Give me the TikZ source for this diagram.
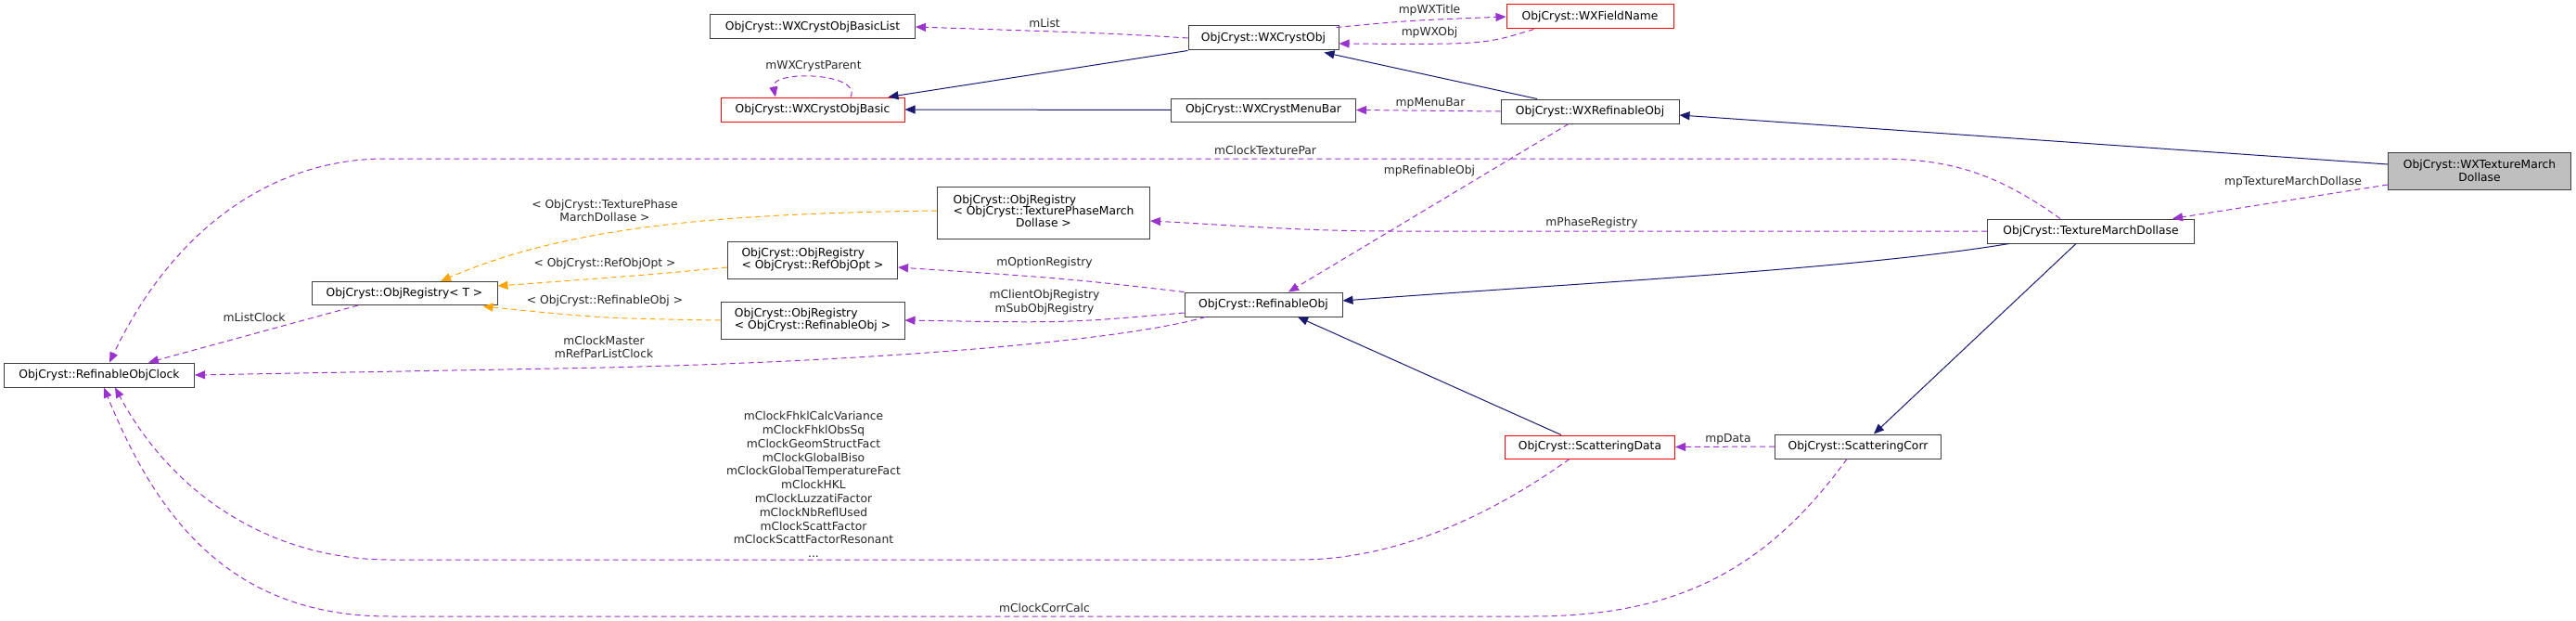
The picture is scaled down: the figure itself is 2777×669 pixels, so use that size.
\documentclass[tikz,border=0pt]{standalone}
\usepackage{fontspec}
\setmainfont{DejaVu Sans}
\usetikzlibrary{arrows.meta,calc}
\definecolor{inh}{HTML}{191970}
\definecolor{use}{HTML}{9A32CD}
\definecolor{tpl}{HTML}{FFA500}
\begin{document}
\begin{tikzpicture}[x=1pt,y=-1pt,
  every node/.style={font=\fontsize{12.3}{14.8}\selectfont,inner sep=0pt},
  box/.style={draw=black!75,line width=1pt,fill=white,align=center},
  redbox/.style={box,draw=red},
  lbl/.style={align=center,text=black!85},
  inhE/.style={draw=inh,line width=1pt,-{Triangle[length=11pt,width=9pt]}},
  useE/.style={draw=use,line width=1pt,dash pattern=on 6pt off 4pt,-{Triangle[length=11pt,width=9pt]}},
  tplE/.style={draw=tpl,line width=1pt,dash pattern=on 6pt off 4pt,-{Triangle[length=11pt,width=9pt]}}]
\useasboundingbox (0,0) rectangle (2777,669);
% nodes
\node[box,minimum width=221,minimum height=26] (list) at (876,29) {ObjCryst::WXCrystObjBasicList};
\node[box,minimum width=162,minimum height=26] (wxobj) at (1362,41) {ObjCryst::WXCrystObj};
\node[redbox,minimum width=180,minimum height=26] (field) at (1714,18) {ObjCryst::WXFieldName};
\node[redbox,minimum width=198,minimum height=26] (basic) at (876,118) {ObjCryst::WXCrystObjBasic};
\node[box,minimum width=199,minimum height=25] (menubar) at (1362,118.5) {ObjCryst::WXCrystMenuBar};
\node[box,minimum width=192,minimum height=26] (wxref) at (1714,120) {ObjCryst::WXRefinableObj};
\node[box,fill=black!25,minimum width=197,minimum height=40] (wxtmd) at (2673,184) {ObjCryst::WXTextureMarch\\Dollase};
\node[box,minimum width=223,minimum height=26] (tmd) at (2254,249) {ObjCryst::TextureMarchDollase};
\node[box,minimum width=179,minimum height=26] (sc) at (2003,481) {ObjCryst::ScatteringCorr};
\node[redbox,minimum width=183,minimum height=25] (sd) at (1714,481.5) {ObjCryst::ScatteringData};
\node[box,minimum width=170,minimum height=26] (robj) at (1362,328) {ObjCryst::RefinableObj};
\node[box,minimum width=229,minimum height=56] (regtpmd) at (1125,229) {\begin{tabular}{@{}l@{}}ObjCryst::ObjRegistry\\[-2pt]< ObjCryst::TexturePhaseMarch\\[-2pt]\multicolumn{1}{@{}c@{}}{Dollase >}\end{tabular}};
\node[box,minimum width=183,minimum height=40] (regopt) at (876,280) {\begin{tabular}{@{}l@{}}ObjCryst::ObjRegistry\\[-2pt]< ObjCryst::RefObjOpt >\end{tabular}};
\node[box,minimum width=198,minimum height=40] (regrobj) at (876,345) {\begin{tabular}{@{}l@{}}ObjCryst::ObjRegistry\\[-2pt]< ObjCryst::RefinableObj >\end{tabular}};
\node[box,minimum width=200,minimum height=25] (regT) at (436,316) {ObjCryst::ObjRegistry< T >};
\node[box,minimum width=205,minimum height=26] (clock) at (107,404) {ObjCryst::RefinableObjClock};
% edges
\draw[useE] (wxobj.west) .. controls (1200,36) .. (list.east);
\node[lbl] (l1) at (1126,25) {mList};
\draw[useE] ($(wxobj.north east)+(-3,2)$) .. controls (1520,22) .. (field.west);
\node[lbl] (l2) at (1541,11) {mpWXTitle};
\draw[useE] ($(field.south west)+(30,0)$) .. controls (1600,48) .. ($(wxobj.east)+(0,6)$);
\node[lbl] (l3) at (1541,35) {mpWXObj};
\draw[useE] ($(basic.north)+(41,0)$) .. controls (930,78) and (830,75) .. ($(basic.north)+(-40,0)$);
\node[lbl] (l4) at (877,71) {mWXCrystParent};
\draw[inhE] (wxobj.south west) -- ($(basic.north east)+(-18,0)$);
\draw[inhE] (menubar.west) -- (basic.east);
\draw[inhE] ($(wxref.north)+(-57,0)$) -- ($(wxobj.south east)+(-16,2)$);
\draw[useE] (wxref.west) -- (menubar.east);
\node[lbl] (l5) at (1542,111) {mpMenuBar};
\draw[inhE] ($(wxtmd.west)+(0,-7)$) -- ($(wxref.east)+(0,4)$);
\draw[useE] ($(wxtmd.west)+(0,15)$) -- ($(tmd.north)+(88,0)$);
\node[lbl] (l6) at (2472,196) {mpTextureMarchDollase};
\draw[useE] ($(wxref.south)+(-23,0)$) -- ($(robj.north)+(27,0)$);
\node[lbl] (l7) at (1541,184) {mpRefinableObj};
\draw[useE] ($(tmd.north)+(-33,0)$) .. controls (2150,185) and (2100,171) .. (2023,171) -- (415,171) .. controls (300,171) and (190,240) .. ($(clock.north)+(11,0)$);
\node[lbl] (l8) at (1364,162) {mClockTexturePar};
\draw[useE] (tmd.west) -- (1500,249) .. controls (1400,249) and (1320,242) .. ($(regtpmd.east)+(0,9)$);
\node[lbl] (l9) at (1716,240) {mPhaseRegistry};
\draw[inhE] ($(tmd.south west)+(24,0)$) .. controls (2000,290) and (1700,305) .. ($(robj.east)+(0,-4)$);
\draw[inhE] ($(tmd.south)+(-16,0)$) -- ($(sc.north)+(17,0)$);
\draw[useE] (sc.west) -- (sd.east);
\node[lbl] (l10) at (1863,473) {mpData};
\draw[useE] ($(sc.south)+(-12,0)$) .. controls (1900,620) and (1800,664) .. (1650,664) -- (420,664) .. controls (250,664) and (170,560) .. ($(clock.south)+(5,0)$);
\node[lbl] (l11) at (1126,655) {mClockCorrCalc};
\draw[useE] ($(sd.south)+(-22,0)$) .. controls (1600,560) and (1500,603) .. (1400,603) -- (420,603) .. controls (300,603) and (190,540) .. ($(clock.south)+(17,0)$);
\node[lbl] (l12) at (877,522) {mClockFhklCalcVariance\\mClockFhklObsSq\\mClockGeomStructFact\\mClockGlobalBiso\\mClockGlobalTemperatureFact\\mClockHKL\\mClockLuzzatiFactor\\mClockNbReflUsed\\mClockScattFactor\\mClockScattFactorResonant\\...};
\draw[inhE] ($(sd.north)+(-31,0)$) -- ($(robj.south)+(37,0)$);
\draw[useE] (robj.north west) .. controls (1150,300) .. ($(regopt.east)+(0,8)$);
\node[lbl] (l13) at (1126,283) {mOptionRegistry};
\draw[useE] ($(robj.west)+(0,9)$) .. controls (1150,348) .. (regrobj.east);
\node[lbl] (l14) at (1126,326) {mClientObjRegistry\\mSubObjRegistry};
\draw[useE] ($(robj.south west)+(23,0)$) .. controls (1200,370) and (900,392) .. (600,397) -- (clock.east);
\node[lbl] (l15) at (651,374) {mClockMaster\\mRefParListClock};
\draw[useE] ($(regT.south)+(-50,0)$) -- ($(clock.north)+(53,0)$);
\node[lbl] (l16) at (274,342) {mListClock};
\draw[tplE] ($(regtpmd.west)+(0,-2)$) .. controls (800,230) and (620,240) .. ($(regT.north)+(39,0)$);
\node[lbl] (l17) at (652,227) {< ObjCryst::TexturePhase\\MarchDollase >};
\draw[tplE] ($(regopt.west)+(0,8)$) .. controls (700,296) .. ($(regT.east)+(0,-8)$);
\node[lbl] (l18) at (652,284) {< ObjCryst::RefObjOpt >};
\draw[tplE] (regrobj.west) .. controls (650,343) .. ($(regT.south east)+(-16,1)$);
\node[lbl] (l19) at (652,324) {< ObjCryst::RefinableObj >};
\end{tikzpicture}
\end{document}
